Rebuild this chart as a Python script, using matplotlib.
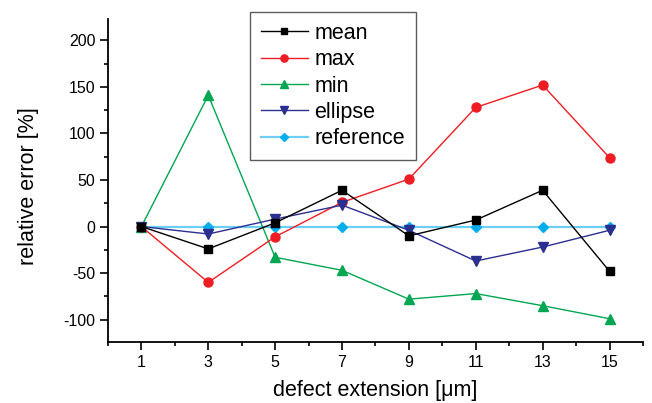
import matplotlib
matplotlib.use('Agg')
import matplotlib.pyplot as plt
from matplotlib.ticker import MultipleLocator

# defect extension in micrometres
extension = [1, 3, 5, 7, 9, 11, 13, 15]

# relative errors in percent
mean_err = [0, -24, 4, 39, -10, 7, 39, -48]
max_err = [0, -60, -11, 26, 51, 128, 152, 74]
min_err = [0, 141, -33, -47, -78, -72, -85, -99]
ellipse_err = [0, -8, 8, 23, -4, -37, -22, -4]
reference_err = [0, 0, 0, 0, 0, 0, 0, 0]

plt.rcParams['font.family'] = ['Liberation Sans', 'DejaVu Sans']
plt.rcParams['axes.unicode_minus'] = False

fig = plt.figure(figsize=(6.52, 4.03), dpi=100)
ax = fig.add_axes([0.1656, 0.1514, 0.8205, 0.8015])

ms = 6.5
lines = []
lines += ax.plot(extension, reference_err, color='#6dcff6', lw=1.6, marker='D',
                 ms=5.5, mfc='#00aeef', mec='#00aeef', label='reference', zorder=2)
lines += ax.plot(extension, min_err, color='#00a651', lw=1.0, marker='^',
                 ms=ms + 0.5, label='min', zorder=3)
lines += ax.plot(extension, max_err, color='#ee1d23', lw=1.0, marker='o',
                 ms=ms, label='max', zorder=3)
lines += ax.plot(extension, ellipse_err, color='#2b2f8f', lw=1.0, marker='v',
                 ms=ms + 0.5, label='ellipse', zorder=3)
lines += ax.plot(extension, mean_err, color='black', lw=1.0, marker='s',
                 ms=ms - 0.3, label='mean', zorder=4)

order = ['mean', 'max', 'min', 'ellipse', 'reference']
handles = sorted(lines, key=lambda l: order.index(l.get_label()))

ax.set_xlim(0, 16)
ax.set_ylim(-124, 223)
ax.set_xticks(extension)
ax.xaxis.set_minor_locator(MultipleLocator(1))
ax.yaxis.set_minor_locator(MultipleLocator(25))
ax.set_yticks([-100, -50, 0, 50, 100, 150, 200])

for side in ['top', 'right']:
    ax.spines[side].set_visible(False)
for side in ['left', 'bottom']:
    ax.spines[side].set_linewidth(1.3)

ax.tick_params(which='major', direction='out', length=5.5, width=1.2, labelsize=11.5)
ax.tick_params(which='minor', direction='out', length=3, width=1.2)
ax.tick_params(axis='x', pad=4)

ax.set_xlabel('defect extension [\u03bcm]', fontsize=15.5, labelpad=7)
ax.set_ylabel('relative error [%]', fontsize=15.5)
ax.yaxis.set_label_coords(-0.128, 0.484)

leg = fig.legend(handles=handles, loc='upper left',
                 bbox_to_anchor=(250 / 652, 1 - 12 / 403),
                 fontsize=15.5, frameon=True, fancybox=False, edgecolor='#333333',
                 handlelength=2.2, handletextpad=0.3, labelspacing=0.25,
                 borderpad=0.5, markerscale=0.8, borderaxespad=0)
leg.get_frame().set_linewidth(1.0)

fig.savefig('out.png', dpi=100)
